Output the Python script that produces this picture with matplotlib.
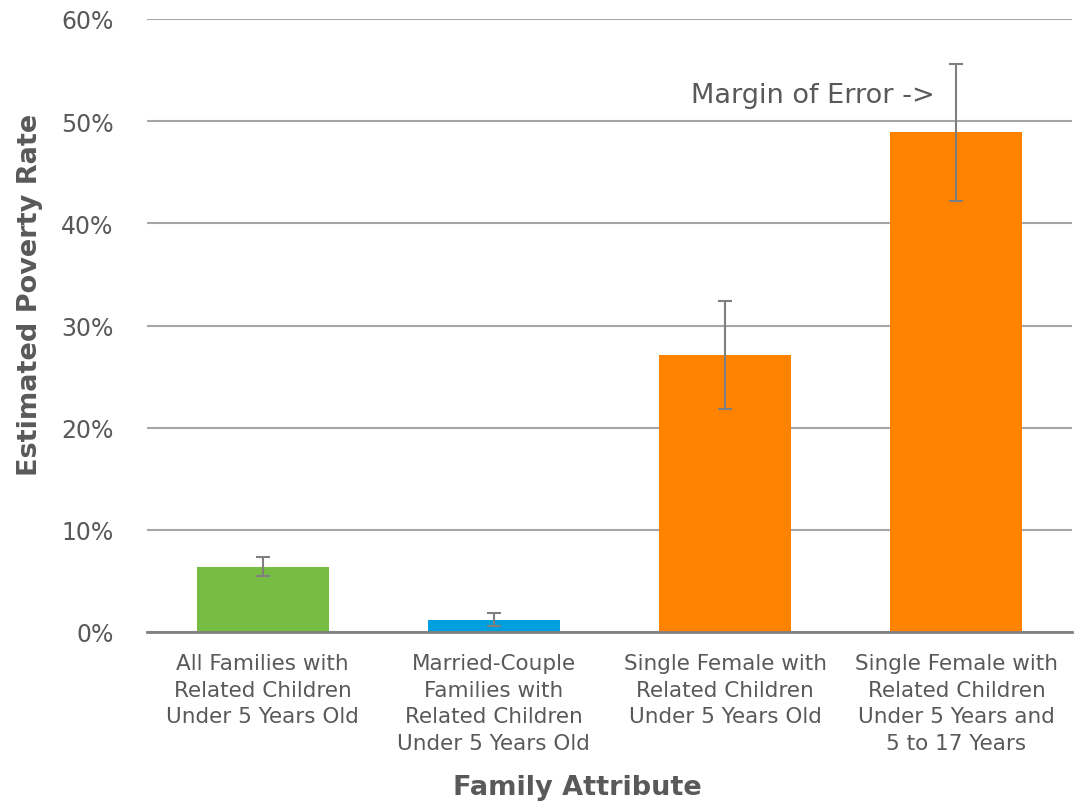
import matplotlib

matplotlib.use('agg')

from matplotlib import pyplot as plt

categories = [
    "All Families with\nRelated Children\nUnder 5 Years Old",
    "Married-Couple\nFamilies with\nRelated Children\nUnder 5 Years Old",
    "Single Female with\nRelated Children\nUnder 5 Years Old",
    "Single Female with\nRelated Children\nUnder 5 Years and\n5 to 17 Years",
]
rates = [6.4, 1.2, 27.1, 48.9]
margins = [0.9, 0.65, 5.3, 6.7]
colors = ["#77bc43", "#009fdd", "#ff8300", "#ff8300"]
yticks = [0, 10, 20, 30, 40, 50, 60]

text_color = "#595959"
plt.rcParams['font.family'] = ['DejaVu Sans']

fig = plt.figure(figsize=(10.82, 8.03), dpi=100)
ax = fig.add_axes([147 / 1082, 1 - 633 / 803, (1072 - 147) / 1082, (633 - 20) / 803])

xs = list(range(len(categories)))
ax.bar(xs, rates, width=0.57, color=colors, zorder=2)
ax.errorbar(xs, rates, yerr=margins, fmt="none", ecolor="#7f7f7f",
            elinewidth=1.5, capsize=5, capthick=1.5, zorder=3)

ax.set_xlim(-0.5, 3.5)
ax.set_ylim(0, 60)
ax.set_yticks(yticks)
ax.set_yticklabels([f"{t}%" for t in yticks])
ax.set_xticks(xs)
ax.set_xticklabels(categories, fontsize=15.5, color=text_color, linespacing=1.42,
                   va="top")
ax.tick_params(axis="y", length=0, pad=24, labelsize=17, labelcolor=text_color)
ax.tick_params(axis="x", length=0, pad=15)

ax.grid(axis="y", color="#a6a6a6", linewidth=1.5, zorder=0)
for side in ["left", "right", "top"]:
    ax.spines[side].set_visible(False)
ax.spines["bottom"].set_color("#808080")
ax.spines["bottom"].set_linewidth(2)
ax.spines["bottom"].set_zorder(4)

ax.text(2.905, 52.6, "Margin of Error ->", ha="right", va="center",
        fontsize=19.5, color=text_color)

fig.text(30 / 1082, 1 - 295 / 803, "Estimated Poverty Rate", rotation=90,
         ha="center", va="center", fontsize=19.5, fontweight="bold", color=text_color)
fig.text(577 / 1082, 1 - 788 / 803, "Family Attribute", ha="center", va="center",
         fontsize=19.5, fontweight="bold", color=text_color)

fig.savefig("out.png", dpi=100)
